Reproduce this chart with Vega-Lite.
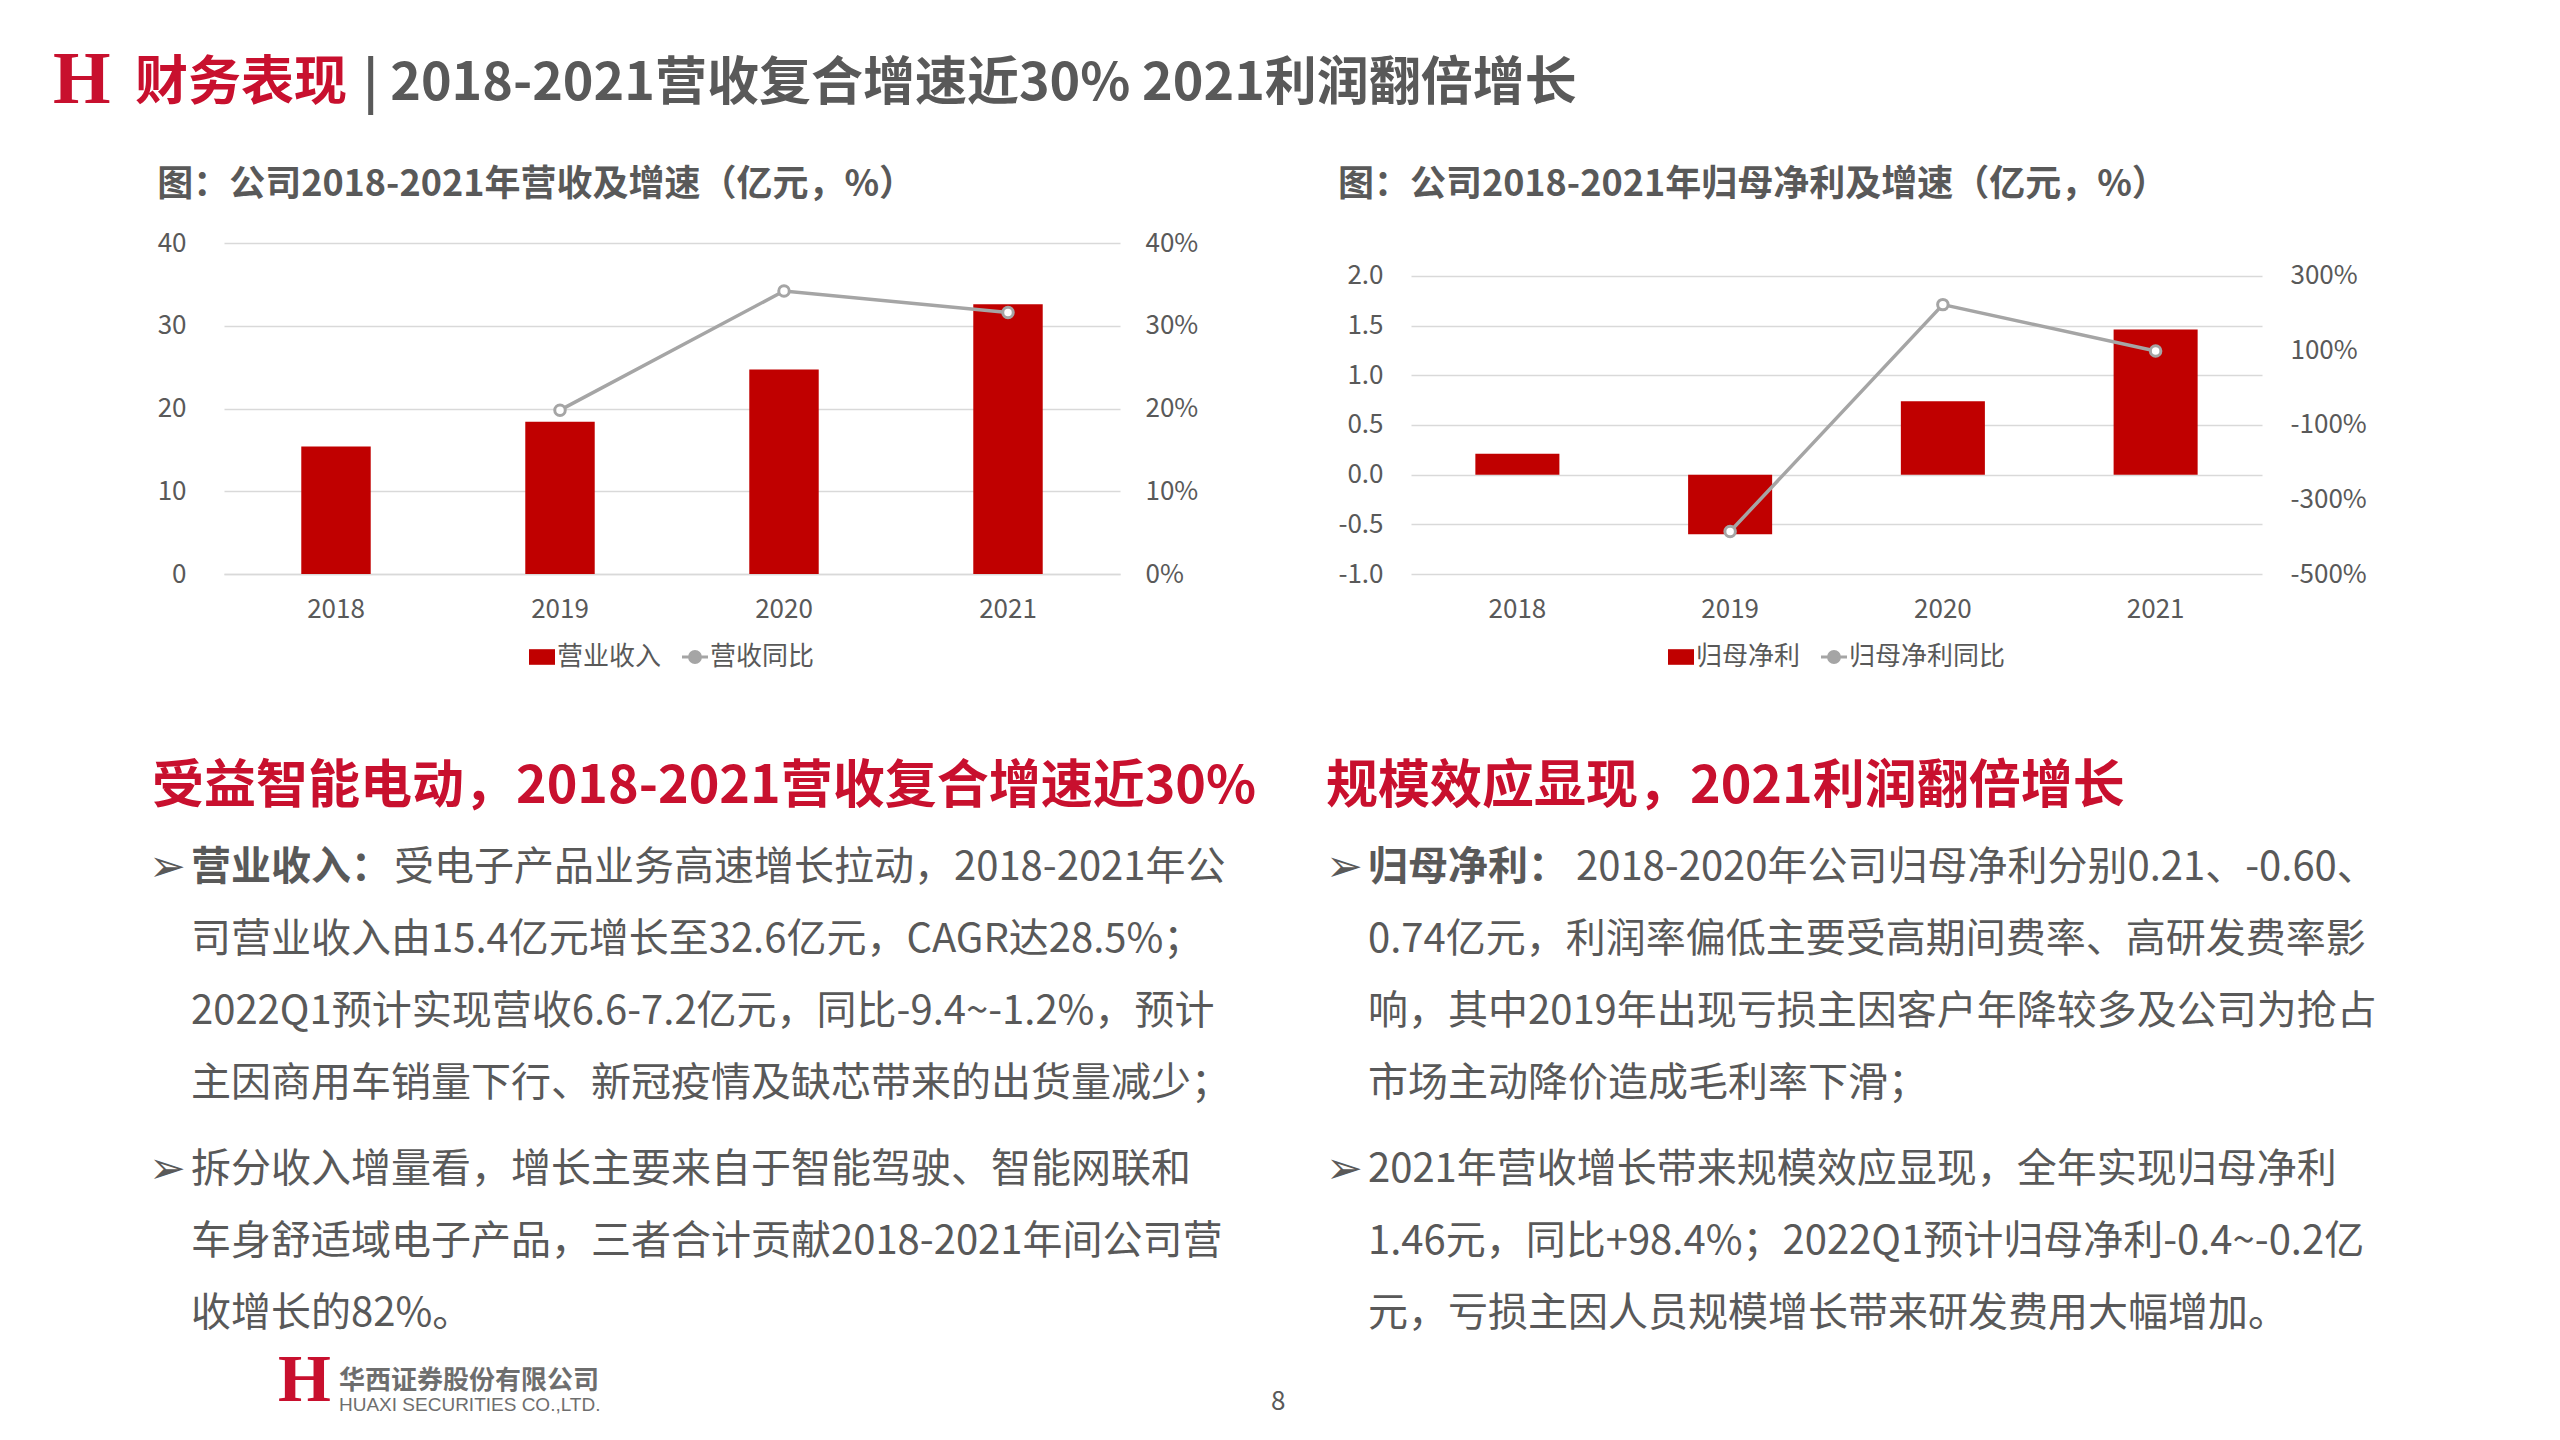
{
  "$schema": "https://vega.github.io/schema/vega-lite/v6.json",
  "background": "white",
  "padding": {"left": 53, "top": 43, "right": 10, "bottom": 10},
  "config": {
    "font": "Noto Sans CJK SC",
    "view": {"stroke": null},
    "axis": {"labelFont": "Noto Sans CJK SC", "labelColor": "#595959", "labelFontSize": 26, "ticks": false, "domain": false},
    "legend": {"layout": {"bottom": {"anchor": "middle"}}},
    "title": {"font": "Noto Sans CJK SC", "anchor": "start"}
  },
  "spacing": 40,
  "resolve": {"scale": {"color": "independent"}, "legend": {"color": "independent"}},
  "vconcat": [
    {
      "spacing": 24,
      "center": true,
      "hconcat": [
        {"width": 1, "height": 1, "data": {"values": []}, "mark": "text",
         "title": {"text": "H", "font": "Liberation Serif", "fontSize": 74, "fontWeight": "bold", "color": "#C8102E", "offset": 0}},
        {
          "spacing": 16,
          "center": true,
          "hconcat": [
            {"width": 1, "height": 16, "data": {"values": []}, "mark": "text",
             "title": {"text": "财务表现", "fontSize": 53, "fontWeight": "bold", "color": "#C8102E", "offset": 0}},
            {"width": 1, "height": 16, "data": {"values": []}, "mark": "text",
             "title": {"text": "| 2018-2021营收复合增速近30% 2021利润翻倍增长", "fontSize": 52, "fontWeight": "bold", "color": "#595959", "offset": 0}}
          ]
        }
      ]
    },
    {
      "spacing": -3,
      "resolve": {"scale": {"color": "independent"}, "legend": {"color": "independent"}},
      "vconcat": [
        {
          "spacing": 95,
          "resolve": {"scale": {"color": "independent"}, "legend": {"color": "independent"}},
          "hconcat": [
            {"width": 1, "height": 1, "data": {"values": []}, "mark": "text"},
            {
              "spacing": 59,
              "resolve": {"scale": {"color": "independent"}, "legend": {"color": "independent"}},
              "hconcat": [
                {
                  "spacing": 91,
                  "resolve": {"scale": {"color": "independent"}, "legend": {"color": "independent"}},
                  "vconcat": [
                    {
                      "title": {"text": "图：公司2018-2021年营收及增速（亿元，%）", "fontSize": 36, "fontWeight": "bold", "color": "#595959", "anchor": "start", "frame": "bounds", "offset": 26},
                      "width": 896,
                      "height": 331,
                      "data": {"values": [
                        {"year": "2018", "rev": 15.4, "yoy": null},
                        {"year": "2019", "rev": 18.4, "yoy": 19.8},
                        {"year": "2020", "rev": 24.7, "yoy": 34.2},
                        {"year": "2021", "rev": 32.6, "yoy": 31.6}
                      ]},
                      "encoding": {
                        "x": {"field": "year", "type": "nominal", "scale": {"paddingInner": 0.69, "paddingOuter": 0.345},
                              "axis": {"title": null, "labelAngle": 0, "labelPadding": 22, "domain": true, "domainColor": "#D9D9D9", "domainWidth": 1.5}}
                      },
                      "layer": [
                        {
                          "mark": {"type": "bar"},
                          "encoding": {
                            "y": {"field": "rev", "type": "quantitative", "scale": {"domain": [0, 40], "nice": false},
                                  "axis": {"title": null, "values": [0, 10, 20, 30, 40], "grid": true, "gridColor": "#D9D9D9", "gridWidth": 1.5, "labelPadding": 38}},
                            "color": {"datum": "营业收入", "type": "nominal",
                                      "scale": {"domain": ["营业收入", "营收同比"], "range": ["#C00000", "#A5A5A5"]},
                                      "legend": {"orient": "bottom", "direction": "horizontal", "title": null, "labelFontSize": 26, "labelColor": "#595959", "symbolSize": 676, "labelOffset": 2, "columnPadding": 14, "offset": 22,
                                        "encode": {"symbols": {"update": {
                                          "shape": {"signal": "datum.value === '营收同比' ? 'M-1,0H-0.42M0.42,0H1M-0.42,0A0.42,0.42,0,1,1,0.42,0A0.42,0.42,0,1,1,-0.42,0' : 'M-1,-0.6H1V0.6H-1Z'"},
                                          "fill": {"signal": "datum.value === '营收同比' ? '#FFFFFF' : '#C00000'"},
                                          "stroke": {"signal": "datum.value === '营收同比' ? '#A5A5A5' : '#C00000'"},
                                          "strokeWidth": {"signal": "datum.value === '营收同比' ? 3 : 0"},
                                          "opacity": {"value": 1}
                                        }}}}}
                          }
                        },
                        {
                          "mark": {"type": "line", "strokeWidth": 3.5},
                          "encoding": {
                            "y": {"field": "yoy", "type": "quantitative", "scale": {"domain": [0, 40], "nice": false},
                                  "axis": {"title": null, "orient": "right", "values": [0, 10, 20, 30, 40], "grid": false, "labelPadding": 25, "labelExpr": "datum.value + '%'"}},
                            "color": {"datum": "营收同比", "type": "nominal"}
                          }
                        },
                        {
                          "mark": {"type": "point", "filled": true, "fill": "#FFFFFF", "stroke": "#A5A5A5", "strokeWidth": 3, "size": 110, "opacity": 1},
                          "encoding": {
                            "y": {"field": "yoy", "type": "quantitative", "scale": {"domain": [0, 40], "nice": false}, "axis": null}
                          }
                        }
                      ],
                      "resolve": {"scale": {"y": "independent"}}
                    },
                    {
                      "spacing": 14,
                      "vconcat": [
                        {
                          "width": 1043, "height": 288,
                          "title": {"text": "受益智能电动，2018-2021营收复合增速近30%", "fontSize": 52, "fontWeight": "bold", "color": "#C8102E", "anchor": "start", "frame": "group", "offset": 18, "dx": -72},
                          "data": {"values": [
                            {"line": 1, "bullet": "➢", "lead": "营业收入：", "body": "受电子产品业务高速增长拉动，2018-2021年公"},
                            {"line": 2, "body": "司营业收入由15.4亿元增长至32.6亿元，CAGR达28.5%；"},
                            {"line": 3, "body": "2022Q1预计实现营收6.6-7.2亿元，同比-9.4~-1.2%，预计"},
                            {"line": 4, "body": "主因商用车销量下行、新冠疫情及缺芯带来的出货量减少；"}
                          ]},
                          "encoding": {"y": {"field": "line", "type": "ordinal", "axis": null}, "x": {"value": 0}},
                          "layer": [
                            {"transform": [{"filter": "datum.bullet"}], "mark": {"type": "text", "align": "left", "baseline": "middle", "font": "DejaVu Sans", "fontSize": 44, "color": "#595959", "dx": -75}, "encoding": {"text": {"field": "bullet"}}},
                            {"transform": [{"filter": "datum.lead"}], "mark": {"type": "text", "align": "left", "baseline": "middle", "fontSize": 40, "fontWeight": "bold", "color": "#595959", "dx": -33}, "encoding": {"text": {"field": "lead"}}},
                            {"transform": [{"filter": "datum.lead"}], "mark": {"type": "text", "align": "left", "baseline": "middle", "fontSize": 40, "color": "#595959", "dx": 170}, "encoding": {"text": {"field": "body"}}},
                            {"transform": [{"filter": "!datum.lead"}], "mark": {"type": "text", "align": "left", "baseline": "middle", "fontSize": 40, "color": "#595959", "dx": -33}, "encoding": {"text": {"field": "body"}}}
                          ]
                        },
                        {
                          "width": 1043, "height": 216,
                          "data": {"values": [
                            {"line": 1, "bullet": "➢", "body": "拆分收入增量看，增长主要来自于智能驾驶、智能网联和"},
                            {"line": 2, "body": "车身舒适域电子产品，三者合计贡献2018-2021年间公司营"},
                            {"line": 3, "body": "收增长的82%。"}
                          ]},
                          "encoding": {"y": {"field": "line", "type": "ordinal", "axis": null}, "x": {"value": 0}},
                          "layer": [
                            {"transform": [{"filter": "datum.bullet"}], "mark": {"type": "text", "align": "left", "baseline": "middle", "font": "DejaVu Sans", "fontSize": 44, "color": "#595959", "dx": -75}, "encoding": {"text": {"field": "bullet"}}},
                            {"mark": {"type": "text", "align": "left", "baseline": "middle", "fontSize": 40, "color": "#595959", "dx": -33}, "encoding": {"text": {"field": "body"}}}
                          ]
                        }
                      ]
                    }
                  ]
                },
                {
                  "spacing": 91,
                  "resolve": {"scale": {"color": "independent"}, "legend": {"color": "independent"}},
                  "vconcat": [
                    {
                      "title": {"text": "图：公司2018-2021年归母净利及增速（亿元，%）", "fontSize": 36, "fontWeight": "bold", "color": "#595959", "anchor": "start", "frame": "bounds", "offset": 39},
                      "width": 851,
                      "height": 331,
                      "data": {"values": [
                        {"year": "2018", "np": 0.21, "yoy": null},
                        {"year": "2019", "np": -0.60, "yoy": -386},
                        {"year": "2020", "np": 0.74, "yoy": 223},
                        {"year": "2021", "np": 1.46, "yoy": 98.4}
                      ]},
                      "encoding": {
                        "x": {"field": "year", "type": "nominal", "scale": {"paddingInner": 0.605, "paddingOuter": 0.3025},
                              "axis": {"title": null, "labelAngle": 0, "labelPadding": 22}}
                      },
                      "layer": [
                        {
                          "mark": {"type": "bar"},
                          "encoding": {
                            "y": {"field": "np", "type": "quantitative", "scale": {"domain": [-1, 2.332], "nice": false, "zero": false},
                                  "axis": {"title": null, "values": [-1, -0.5, 0, 0.5, 1, 1.5, 2], "labelExpr": "(datum.value < 0 ? '-' : '') + format(abs(datum.value), '.1f')", "grid": true, "gridColor": "#D9D9D9", "gridWidth": 1.5, "labelPadding": 28}},
                            "y2": {"datum": 0},
                            "color": {"datum": "归母净利", "type": "nominal",
                                      "scale": {"domain": ["归母净利", "归母净利同比"], "range": ["#C00000", "#A5A5A5"]},
                                      "legend": {"orient": "bottom", "direction": "horizontal", "title": null, "labelFontSize": 26, "labelColor": "#595959", "symbolSize": 676, "labelOffset": 2, "columnPadding": 14, "offset": 22,
                                        "encode": {"symbols": {"update": {
                                          "shape": {"signal": "datum.value === '归母净利同比' ? 'M-1,0H-0.42M0.42,0H1M-0.42,0A0.42,0.42,0,1,1,0.42,0A0.42,0.42,0,1,1,-0.42,0' : 'M-1,-0.6H1V0.6H-1Z'"},
                                          "fill": {"signal": "datum.value === '归母净利同比' ? '#FFFFFF' : '#C00000'"},
                                          "stroke": {"signal": "datum.value === '归母净利同比' ? '#A5A5A5' : '#C00000'"},
                                          "strokeWidth": {"signal": "datum.value === '归母净利同比' ? 3 : 0"},
                                          "opacity": {"value": 1}
                                        }}}}}
                          }
                        },
                        {
                          "mark": {"type": "line", "strokeWidth": 3.5},
                          "encoding": {
                            "y": {"field": "yoy", "type": "quantitative", "scale": {"domain": [-500, 388.4], "nice": false, "zero": false},
                                  "axis": {"title": null, "orient": "right", "values": [-500, -300, -100, 100, 300], "grid": false, "labelPadding": 28, "labelExpr": "datum.value + '%'"}},
                            "color": {"datum": "归母净利同比", "type": "nominal"}
                          }
                        },
                        {
                          "mark": {"type": "point", "filled": true, "fill": "#FFFFFF", "stroke": "#A5A5A5", "strokeWidth": 3, "size": 110, "opacity": 1},
                          "encoding": {
                            "y": {"field": "yoy", "type": "quantitative", "scale": {"domain": [-500, 388.4], "nice": false, "zero": false}, "axis": null}
                          }
                        }
                      ],
                      "resolve": {"scale": {"y": "independent"}}
                    },
                    {
                      "spacing": 14,
                      "vconcat": [
                        {
                          "width": 1000, "height": 288,
                          "title": {"text": "规模效应显现，2021利润翻倍增长", "fontSize": 52, "fontWeight": "bold", "color": "#C8102E", "anchor": "start", "frame": "group", "offset": 18, "dx": -85},
                          "data": {"values": [
                            {"line": 1, "bullet": "➢", "lead": "归母净利：", "body": "2018-2020年公司归母净利分别0.21、-0.60、"},
                            {"line": 2, "body": "0.74亿元，利润率偏低主要受高期间费率、高研发费率影"},
                            {"line": 3, "body": "响，其中2019年出现亏损主因客户年降较多及公司为抢占"},
                            {"line": 4, "body": "市场主动降价造成毛利率下滑；"}
                          ]},
                          "encoding": {"y": {"field": "line", "type": "ordinal", "axis": null}, "x": {"value": 0}},
                          "layer": [
                            {"transform": [{"filter": "datum.bullet"}], "mark": {"type": "text", "align": "left", "baseline": "middle", "font": "DejaVu Sans", "fontSize": 44, "color": "#595959", "dx": -85}, "encoding": {"text": {"field": "bullet"}}},
                            {"transform": [{"filter": "datum.lead"}], "mark": {"type": "text", "align": "left", "baseline": "middle", "fontSize": 40, "fontWeight": "bold", "color": "#595959", "dx": -43}, "encoding": {"text": {"field": "lead"}}},
                            {"transform": [{"filter": "datum.lead"}], "mark": {"type": "text", "align": "left", "baseline": "middle", "fontSize": 40, "color": "#595959", "dx": 165}, "encoding": {"text": {"field": "body"}}},
                            {"transform": [{"filter": "!datum.lead"}], "mark": {"type": "text", "align": "left", "baseline": "middle", "fontSize": 40, "color": "#595959", "dx": -43}, "encoding": {"text": {"field": "body"}}}
                          ]
                        },
                        {
                          "width": 1000, "height": 216,
                          "data": {"values": [
                            {"line": 1, "bullet": "➢", "body": "2021年营收增长带来规模效应显现，全年实现归母净利"},
                            {"line": 2, "body": "1.46元，同比+98.4%；2022Q1预计归母净利-0.4~-0.2亿"},
                            {"line": 3, "body": "元，亏损主因人员规模增长带来研发费用大幅增加。"}
                          ]},
                          "encoding": {"y": {"field": "line", "type": "ordinal", "axis": null}, "x": {"value": 0}},
                          "layer": [
                            {"transform": [{"filter": "datum.bullet"}], "mark": {"type": "text", "align": "left", "baseline": "middle", "font": "DejaVu Sans", "fontSize": 44, "color": "#595959", "dx": -85}, "encoding": {"text": {"field": "bullet"}}},
                            {"mark": {"type": "text", "align": "left", "baseline": "middle", "fontSize": 40, "color": "#595959", "dx": -43}, "encoding": {"text": {"field": "body"}}}
                          ]
                        }
                      ]
                    }
                  ]
                }
              ]
            }
          ]
        },
        {
          "spacing": 670,
          "center": true,
          "hconcat": [
            {
              "spacing": 224,
              "center": true,
              "hconcat": [
                {"width": 1, "height": 1, "data": {"values": []}, "mark": "text"},
                {
                  "spacing": 8,
                  "center": true,
                  "hconcat": [
                    {"width": 1, "height": 1, "data": {"values": []}, "mark": "text",
                     "title": {"text": "H", "font": "Liberation Serif", "fontSize": 68, "fontWeight": "bold", "color": "#C8102E", "offset": 0}},
                    {"width": 1, "height": 1, "data": {"values": []}, "mark": "text",
                     "title": {"text": "华西证券股份有限公司", "subtitle": "HUAXI SECURITIES CO.,LTD.", "fontSize": 26, "fontWeight": "bold", "color": "#6E6E6E", "subtitleFontSize": 19, "subtitleFont": "Liberation Sans", "subtitleColor": "#6E6E6E", "subtitlePadding": 2, "offset": 0}}
                  ]
                }
              ]
            },
            {"width": 1, "height": 1, "data": {"values": []}, "mark": "text",
             "title": {"text": "8", "fontSize": 26, "fontWeight": "normal", "color": "#595959", "offset": 0}}
          ]
        }
      ]
    }
  ]
}
